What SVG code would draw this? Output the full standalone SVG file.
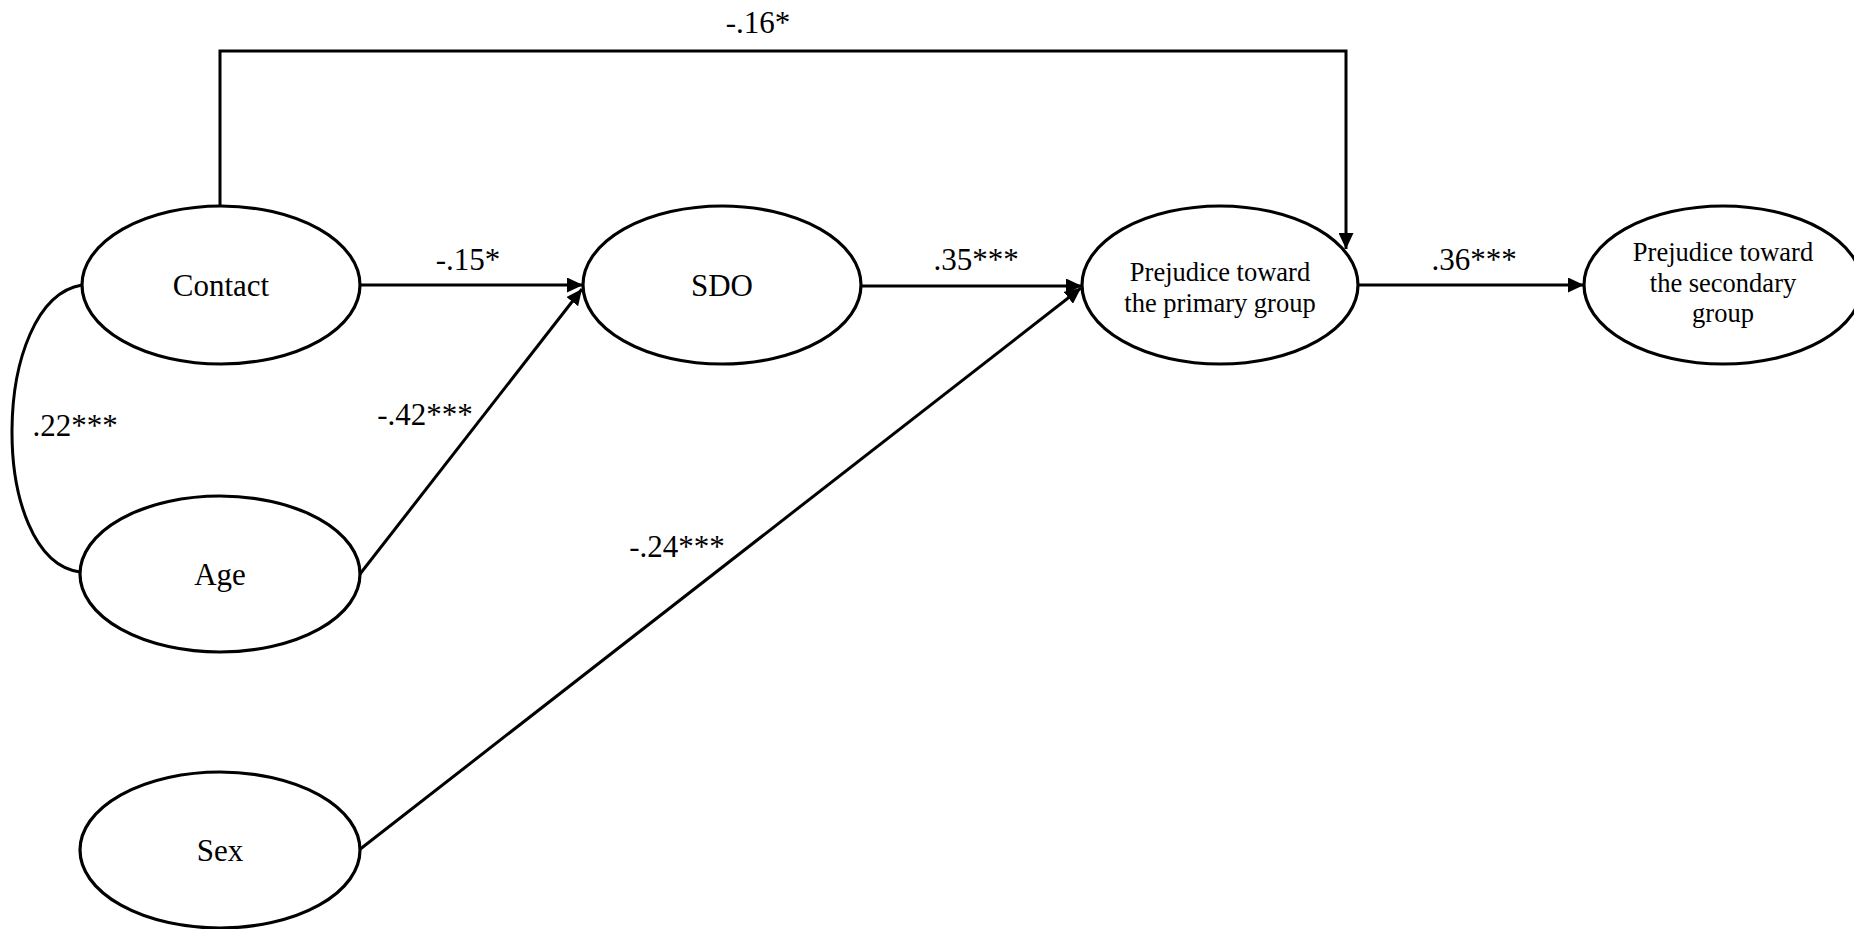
<svg xmlns="http://www.w3.org/2000/svg" width="1854" height="929" viewBox="0 0 1854 929">
<defs>
<style>
.node ellipse{fill:#fff;stroke:#000;stroke-width:3.2}
.lbl{font-family:"Liberation Serif","Times New Roman",serif;font-size:31px;fill:#000;text-anchor:middle}
.sm{font-family:"Liberation Serif","Times New Roman",serif;font-size:26.5px;fill:#000;text-anchor:middle}
.edge{fill:none;stroke:#000;stroke-width:3}
</style>
<marker id="ah" markerUnits="userSpaceOnUse" markerWidth="17" markerHeight="15" refX="16" refY="7.5" orient="auto">
<path d="M0,0 L16,7.5 L0,15 z" fill="#000"/>
</marker>
</defs>
<rect width="1854" height="929" fill="#fff"/>
<g id="connectors">
<path class="edge" d="M220 206 V51 H1346 V249" marker-end="url(#ah)"/>
<line class="edge" x1="360" y1="285" x2="583" y2="285" marker-end="url(#ah)"/>
<line class="edge" x1="360" y1="574" x2="582" y2="289" marker-end="url(#ah)"/>
<line class="edge" x1="861" y1="286" x2="1082" y2="286" marker-end="url(#ah)"/>
<line class="edge" x1="359" y1="850" x2="1081" y2="288" marker-end="url(#ah)"/>
<line class="edge" x1="1358" y1="285" x2="1584" y2="285" marker-end="url(#ah)"/>
<path class="edge" d="M82 285 C-10 300 -12 560 80 572"/>
<text class="lbl" x="758" y="33">-.16*</text>
<text class="lbl" x="468" y="270">-.15*</text>
<text class="lbl" x="976" y="270">.35***</text>
<text class="lbl" x="1474" y="270">.36***</text>
<text class="lbl" x="75" y="436">.22***</text>
<text class="lbl" x="425" y="425">-.42***</text>
<text class="lbl" x="677" y="557">-.24***</text>
</g>
<g id="contact" class="node">
<ellipse cx="221" cy="285" rx="139" ry="79"/>
<text class="lbl" x="221" y="296">Contact</text>
</g>
<g id="sdo" class="node">
<ellipse cx="722" cy="285" rx="139" ry="79"/>
<text class="lbl" x="722" y="296">SDO</text>
</g>
<g id="prej-primary" class="node">
<ellipse cx="1220" cy="285" rx="138" ry="79"/>
<text class="sm" x="1220" y="281">Prejudice toward</text>
<text class="sm" x="1220" y="312">the primary group</text>
</g>
<g id="prej-secondary" class="node">
<ellipse cx="1723" cy="285" rx="139" ry="79"/>
<text class="sm" x="1723" y="261">Prejudice toward</text>
<text class="sm" x="1723" y="292">the secondary</text>
<text class="sm" x="1723" y="322">group</text>
</g>
<g id="age" class="node">
<ellipse cx="220" cy="574" rx="140" ry="78"/>
<text class="lbl" x="220" y="585">Age</text>
</g>
<g id="sex" class="node">
<ellipse cx="220" cy="850" rx="140" ry="78"/>
<text class="lbl" x="220" y="861">Sex</text>
</g>
</svg>
